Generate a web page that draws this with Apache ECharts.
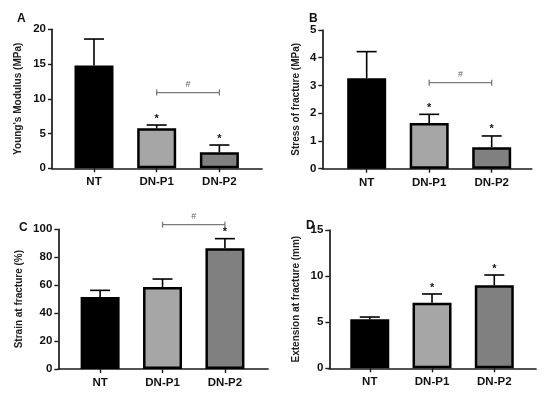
<!DOCTYPE html>
<html>
<head>
<meta charset="utf-8">
<script src="https://cdn.jsdelivr.net/npm/echarts@6/dist/echarts.min.js"></script>
<style>
html,body{margin:0;padding:0;background:#fff;}
#chart{width:550px;height:398px;}
</style>
</head>
<body>
<div id="chart"></div>
<script>
// ---- data ----
const categories = ['NT', 'DN-P1', 'DN-P2'];

const youngMean = [14.8, 5.75, 2.3];
const youngErr  = [3.8, 0.48, 1.05];
const youngStars = [1, 2];
const youngBracket = [1, 2, 10.9];

const stressMean = [3.26, 1.65, 0.77];
const stressErr  = [0.96, 0.31, 0.41];
const stressStars = [1, 2];
const stressBracket = [1, 2, 3.1];

const strainMean = [51.5, 58.7, 86.4];
const strainErr  = [4.8, 5.7, 6.9];
const strainStars = [2];
const strainBracket = [1, 2, 103.3];

const extMean = [5.31, 7.12, 9.0];
const extErr  = [0.25, 0.94, 1.12];
const extStars = [1, 2];

const yTicksA = [0, 20, 5];
const yTicksB = [0, 5, 1];
const yTicksC = [0, 100, 20];
const yTicksD = [0, 15, 5];

// ---- styling ----
const barColors = ['#000000', '#a6a6a6', '#808080'];
const FONT = 'Liberation Sans, Arial, sans-serif';
const AX = '#1a1a1a';

const panels = [
  {letter: 'A', mean: youngMean, err: youngErr, stars: youngStars, bracket: youngBracket, ticks: yTicksA,
   name: "Young's Modulus (MPa)", nameGap: 29,
   grid: {left: 52, top: 29.3, width: 210, height: 139}, xr: [-0.67, 2.68], lx: 12, ly: 8},
  {letter: 'B', mean: stressMean, err: stressErr, stars: stressStars, bracket: stressBracket, ticks: yTicksB,
   name: 'Stress of fracture (MPa)', nameGap: 21,
   grid: {left: 322.3, top: 30, width: 209.4, height: 138.7}, xr: [-0.71, 2.64], lx: 304, ly: 8},
  {letter: 'C', mean: strainMean, err: strainErr, stars: strainStars, bracket: strainBracket, ticks: yTicksC,
   name: 'Strain at fracture (%)', nameGap: 34,
   grid: {left: 58.3, top: 229.3, width: 209.7, height: 139.7}, xr: [-0.67, 2.69], lx: 14, ly: 217},
  {letter: 'D', mean: extMean, err: extErr, stars: extStars, bracket: null, ticks: yTicksD,
   name: 'Extension at fracture (mm)', nameGap: 28,
   grid: {left: 329.3, top: 230, width: 206.7, height: 138.3}, xr: [-0.65, 2.67], lx: 301, ly: 215}
];

const grid = [], xAxis = [], yAxis = [], series = [], title = [];

panels.forEach((p, i) => {
  grid.push(Object.assign({containLabel: false}, p.grid));
  title.push({text: p.letter, left: p.lx, top: p.ly,
    textStyle: {fontFamily: FONT, fontSize: 12, fontWeight: 'bold', color: '#111'}});
  xAxis.push({
    type: 'value', gridIndex: i, min: p.xr[0], max: p.xr[1],
    splitLine: {show: false},
    axisLine: {show: true, onZero: false, lineStyle: {color: AX, width: 1.7}},
    axisTick: {show: true, customValues: [0, 1, 2], length: 4, lineStyle: {color: AX, width: 1.4}},
    axisLabel: {show: true, customValues: [0, 1, 2], margin: 8,
      formatter: v => categories[Math.round(v)] || '',
      fontFamily: FONT, fontSize: 11.5, fontWeight: 'bold', color: '#111'}
  });
  yAxis.push({
    type: 'value', gridIndex: i, min: p.ticks[0], max: p.ticks[1], interval: p.ticks[2],
    name: p.name, nameLocation: 'middle', nameGap: p.nameGap, nameRotate: 90,
    nameTextStyle: {fontFamily: FONT, fontSize: 10, fontWeight: 'bold', color: '#222'},
    splitLine: {show: false},
    axisLine: {show: true, onZero: false, lineStyle: {color: AX, width: 1.7}},
    axisTick: {show: true, length: 4, lineStyle: {color: AX, width: 1.4}},
    axisLabel: {margin: 6, fontFamily: FONT, fontSize: 11.5, fontWeight: 'bold', color: '#111'}
  });

  // bars
  series.push({
    type: 'bar', xAxisIndex: i, yAxisIndex: i, barWidth: 39, z: 2,
    data: p.mean.map((v, k) => ({value: [k, v],
      itemStyle: {color: barColors[k], borderColor: '#000', borderWidth: 2.5}}))
  });

  // error bars (upper only)
  series.push({
    type: 'custom', xAxisIndex: i, yAxisIndex: i, z: 3, silent: true,
    data: p.mean.map((v, k) => [k, v, p.err[k]]),
    renderItem: (params, api) => {
      const x = api.value(0), m = api.value(1), e = api.value(2);
      const p0 = api.coord([x, m]), p1 = api.coord([x, m + e]);
      const st = {stroke: '#000', lineWidth: 1.6};
      return {type: 'group', children: [
        {type: 'line', shape: {x1: p0[0], y1: p0[1], x2: p1[0], y2: p1[1]}, style: st},
        {type: 'line', shape: {x1: p1[0] - 10, y1: p1[1], x2: p1[0] + 10, y2: p1[1]}, style: st}
      ]};
    }
  });

  // significance stars
  series.push({
    type: 'custom', xAxisIndex: i, yAxisIndex: i, z: 4, silent: true, clip: false,
    data: p.stars.map(k => [k, p.mean[k] + p.err[k]]),
    renderItem: (params, api) => {
      const c = api.coord([api.value(0), api.value(1)]);
      return {type: 'text', x: c[0], y: c[1] - 1,
        style: {text: '*', fontFamily: FONT, fontSize: 11, fontWeight: 'bold', fill: '#111',
          align: 'center', verticalAlign: 'bottom'}};
    }
  });

  // bracket
  if (p.bracket) {
    series.push({
      type: 'custom', xAxisIndex: i, yAxisIndex: i, z: 4, silent: true, clip: false,
      data: [p.bracket],
      renderItem: (params, api) => {
        const a = api.coord([api.value(0), api.value(2)]);
        const b = api.coord([api.value(1), api.value(2)]);
        const st = {stroke: '#7a7a7a', lineWidth: 1.3};
        return {type: 'group', children: [
          {type: 'line', shape: {x1: a[0], y1: a[1], x2: b[0], y2: b[1]}, style: st},
          {type: 'line', shape: {x1: a[0], y1: a[1] - 3, x2: a[0], y2: a[1] + 3}, style: st},
          {type: 'line', shape: {x1: b[0], y1: b[1] - 3, x2: b[0], y2: b[1] + 3}, style: st},
          {type: 'text', x: (a[0] + b[0]) / 2, y: a[1] - 4,
            style: {text: '#', fontFamily: FONT, fontSize: 9, fill: '#666',
              align: 'center', verticalAlign: 'bottom'}}
        ]};
      }
    });
  }
});

const chart = echarts.init(document.getElementById('chart'), null, {renderer: 'canvas'});
chart.setOption({
  animation: false,
  backgroundColor: '#ffffff',
  title, grid, xAxis, yAxis, series
});
</script>
</body>
</html>
